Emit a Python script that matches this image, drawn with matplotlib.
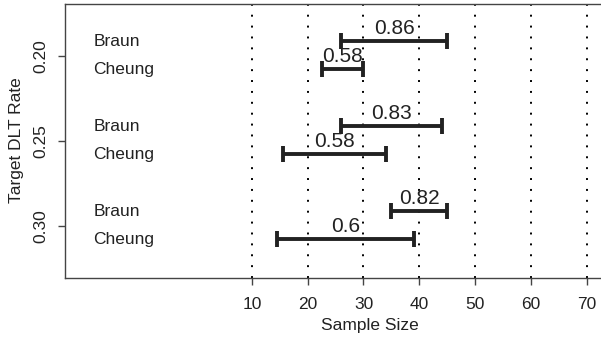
import matplotlib
matplotlib.use("Agg")
import matplotlib.pyplot as plt

# target DLT rates (y groups) and sample-size ranges per design
rates = [0.20, 0.25, 0.30]
designs = ["Braun", "Cheung"]
braun_lo = [26, 26, 35]
braun_hi = [45, 44, 45]
braun_power = ["0.86", "0.83", "0.82"]
cheung_lo = [22.5, 15.5, 14.5]
cheung_hi = [30, 34, 39]
cheung_power = ["0.58", "0.58", "0.6"]
xticks = [10, 20, 30, 40, 50, 60, 70]

INK = "#222222"
plt.rcParams["font.family"] = ["Liberation Sans", "DejaVu Sans"]

fig = plt.figure(figsize=(6.01, 3.41), dpi=100)
ax = fig.add_axes([0.108, 0.1862, 1.015, 0.8035])
ax.set_xlim(-23.5, 85.8)
ax.set_ylim(0.3305, 0.1693)

for x in xticks:
    ax.axvline(x, color="black", lw=1.4, linestyle=(0, (1, 4.6)), zorder=1)

offsets = {"Braun": -0.0085, "Cheung": 0.008}
series = {
    "Braun": (braun_lo, braun_hi, braun_power),
    "Cheung": (cheung_lo, cheung_hi, cheung_power),
}
for name in designs:
    lo, hi, power = series[name]
    for r, a, b, p in zip(rates, lo, hi, power):
        y = r + offsets[name]
        ax.hlines(y, a, b, color=INK, lw=2.8, zorder=3)
        ax.plot([a, b], [y, y], linestyle="none", marker="|", markersize=11,
                markeredgewidth=2.8, color=INK, zorder=3)
        ax.text((a + b) / 2, y - 0.004, p, ha="center", va="baseline",
                fontsize=15, color=INK, zorder=4)
        ax.text(-18.4, y + 0.003, name, ha="left", va="baseline",
                fontsize=12.5, color=INK)

ax.set_xticks(xticks)
ax.set_yticks(rates)
ax.set_yticklabels(["0.20", "0.25", "0.30"], rotation=90, va="center")
ax.tick_params(axis="both", direction="out", length=5, width=1, color="#444444",
               labelsize=12.5, labelcolor=INK)
ax.tick_params(axis="x", pad=9)
ax.tick_params(axis="y", pad=7)
for s in ax.spines.values():
    s.set_color("#444444")
    s.set_linewidth(1.0)

ax.set_xlabel("Sample Size", fontsize=12.5, color=INK)
ax.xaxis.set_label_coords(0.5, -0.148)
ax.set_ylabel("Target DLT Rate", fontsize=12.5, color=INK)
ax.yaxis.set_label_coords(-0.067, 0.5)

fig.savefig("out.png", dpi=100)
